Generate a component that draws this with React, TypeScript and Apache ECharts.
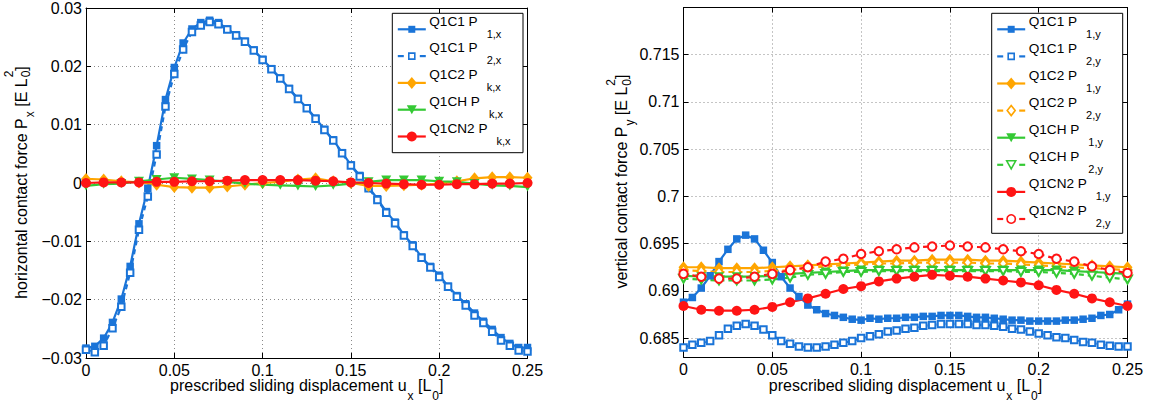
import React, { useEffect, useRef } from "react";
import * as echarts from "echarts";

// ---------- data ----------
const U_FINE = [
  0, 0.005, 0.01, 0.015, 0.02, 0.025, 0.03, 0.035, 0.04, 0.045, 0.05, 0.055, 0.06, 0.065, 0.07, 0.075, 0.08,
  0.085, 0.09, 0.095, 0.1, 0.105, 0.11, 0.115, 0.12, 0.125, 0.13, 0.135, 0.14, 0.145, 0.15, 0.155, 0.16, 0.165,
  0.17, 0.175, 0.18, 0.185, 0.19, 0.195, 0.2, 0.205, 0.21, 0.215, 0.22, 0.225, 0.23, 0.235, 0.24, 0.245, 0.25,
];
const U_COARSE = [
  0, 0.01, 0.02, 0.03, 0.04, 0.05, 0.06, 0.07, 0.08, 0.09, 0.1, 0.11, 0.12, 0.13, 0.14, 0.15, 0.16, 0.17, 0.18,
  0.19, 0.2, 0.21, 0.22, 0.23, 0.24, 0.25,
];

// horizontal contact force P_x
const PX_Q1C1_P1 = [
  -0.0283, -0.028, -0.0266, -0.0239, -0.0199, -0.0143, -0.007, -0.0009, 0.0064, 0.0143, 0.0198, 0.024, 0.0264,
  0.0275, 0.0279, 0.0275, 0.0264, 0.0254, 0.0243, 0.0228, 0.0212, 0.0196, 0.018, 0.0162, 0.0145, 0.0129, 0.0111,
  0.0092, 0.0074, 0.0052, 0.0031, 0.0013, -0.0007, -0.0027, -0.0049, -0.0067, -0.0089, -0.0106, -0.0127, -0.0143,
  -0.0158, -0.0177, -0.0193, -0.0207, -0.0223, -0.0237, -0.0251, -0.0265, -0.0275, -0.0282, -0.0282,
];
const PX_Q1C1_P2 = [
  -0.0286, -0.029, -0.0279, -0.0249, -0.0212, -0.0154, -0.008, -0.0023, 0.0049, 0.0131, 0.0187, 0.0229, 0.0259,
  0.027, 0.0276, 0.0272, 0.0263, 0.0253, 0.0242, 0.0227, 0.0211, 0.0195, 0.0179, 0.0161, 0.0144, 0.0128, 0.011,
  0.0091, 0.0073, 0.0051, 0.003, 0.0011, -0.0009, -0.0029, -0.0051, -0.0069, -0.009, -0.0108, -0.0128, -0.0145,
  -0.0161, -0.0178, -0.0195, -0.021, -0.0227, -0.024, -0.0255, -0.027, -0.0279, -0.0287, -0.0289,
];
const PX_Q1C2 = [
  0.0007, 0.0006, 0.0003, 0.0001, -0.0003, -0.0007, -0.0008, -0.0008, -0.0006, -0.0003, 0.0, 0.0002, 0.0006,
  0.0008, 0.0003, 0.0, -0.0005, -0.0005, -0.0004, -0.0003, -0.0001, 0.0003, 0.0008, 0.001, 0.001, 0.0009,
];
const PX_Q1CH = [
  -0.0005, -0.0002, -0.0001, 0.0003, 0.0006, 0.0009, 0.0007, 0.0005, 0.0002, -0.0001, -0.0003, -0.0004,
  -0.0005, -0.0006, -0.0004, -0.0001, 0.0002, 0.0005, 0.0005, 0.0005, 0.0003, 0.0002, -0.0001, -0.0004,
  -0.0005, -0.0007,
];
const PX_Q1CN2 = [
  0.0, 0.0001, 0.0001, 0.0001, 0.0002, 0.0002, 0.0003, 0.0003, 0.0004, 0.0005, 0.0005, 0.0005, 0.0005, 0.0004,
  0.0003, 0.0001, 0.0, -0.0001, -0.0002, -0.0003, -0.0003, -0.0002, -0.0002, -0.0001, -0.0001, 0.0,
];

// vertical contact force P_y
const PY_Q1C1_P1 = [
  0.6888, 0.6893, 0.6903, 0.6916, 0.6931, 0.6944, 0.6955, 0.6959, 0.6955, 0.6943, 0.693, 0.6915, 0.6903, 0.6894,
  0.6885, 0.688, 0.6876, 0.6874, 0.6872, 0.687, 0.6869, 0.6871, 0.687, 0.6871, 0.6871, 0.6872, 0.6872, 0.6873,
  0.6873, 0.6874, 0.6874, 0.6874, 0.6873, 0.6872, 0.6872, 0.6871, 0.687, 0.6869, 0.6869, 0.6868, 0.6868, 0.6868,
  0.6868, 0.6869, 0.6869, 0.687, 0.6871, 0.6874, 0.6875, 0.688, 0.6886,
];
const PY_Q1C1_P2 = [
  0.684, 0.6843, 0.6845, 0.6847, 0.6853, 0.686, 0.6863, 0.6865, 0.6863, 0.6859, 0.6853, 0.6847, 0.6844, 0.6841,
  0.684, 0.684, 0.6841, 0.6843, 0.6845, 0.6847, 0.685, 0.6852, 0.6854, 0.6857, 0.6858, 0.686, 0.6861, 0.6863,
  0.6864, 0.6865, 0.6865, 0.6865, 0.6865, 0.6864, 0.6864, 0.6863, 0.6862, 0.686, 0.6859, 0.6857, 0.6855, 0.6853,
  0.6851, 0.685, 0.6848, 0.6846, 0.6845, 0.6843, 0.6842, 0.6841, 0.6841,
];
const PY_Q1C2_P1 = [
  0.6925, 0.6925, 0.6924, 0.6924, 0.6924, 0.6925, 0.6926, 0.6927, 0.6928, 0.6929, 0.693, 0.6931, 0.6932, 0.6932,
  0.6933, 0.6933, 0.6933, 0.6932, 0.6932, 0.6931, 0.693, 0.6929, 0.6928, 0.6927, 0.6926, 0.6925,
];
const PY_Q1C2_P2 = [
  0.6922, 0.6921, 0.692, 0.692, 0.692, 0.6921, 0.6922, 0.6924, 0.6926, 0.6927, 0.6928, 0.6929, 0.6929, 0.693,
  0.693, 0.693, 0.693, 0.6929, 0.6929, 0.6928, 0.6927, 0.6926, 0.6925, 0.6924, 0.6923, 0.6922,
];
const PY_Q1CH_P1 = [
  0.6916, 0.6915, 0.6915, 0.6915, 0.6915, 0.6916, 0.6918, 0.6919, 0.692, 0.6921, 0.6922, 0.6922, 0.6922, 0.6922,
  0.6922, 0.6922, 0.6922, 0.6922, 0.6922, 0.6922, 0.6922, 0.6922, 0.6921, 0.692, 0.6919, 0.6918,
];
const PY_Q1CH_P2 = [
  0.6913, 0.6912, 0.6911, 0.6911, 0.6911, 0.6912, 0.6914, 0.6917, 0.6918, 0.692, 0.692, 0.6921, 0.6921, 0.6921,
  0.6921, 0.6921, 0.6921, 0.6921, 0.6921, 0.692, 0.692, 0.6919, 0.6918, 0.6916, 0.6914, 0.6912,
];
const PY_Q1CN2_P1 = [
  0.6884, 0.688, 0.6879, 0.6879, 0.688, 0.6883, 0.6888, 0.6892, 0.6897, 0.6902, 0.6905, 0.691, 0.6913, 0.6915,
  0.6917, 0.6916, 0.6915, 0.6913, 0.6911, 0.6909, 0.6906, 0.6901, 0.6897, 0.6892, 0.6888, 0.6884,
];
const PY_Q1CN2_P2 = [
  0.6918, 0.6915, 0.6913, 0.6913, 0.6915, 0.6918, 0.6922, 0.6925, 0.6931, 0.6934, 0.6939, 0.6942, 0.6944, 0.6946,
  0.6947, 0.6948, 0.6947, 0.6946, 0.6944, 0.6942, 0.6939, 0.6934, 0.6931, 0.6926, 0.6922, 0.6919,
];

// legend labels: [series name, main text, subscript]
const LEFT_LEGEND = [
  ["Q1C1 P1,x", "Q1C1 P", "1,x"],
  ["Q1C1 P2,x", "Q1C1 P", "2,x"],
  ["Q1C2 Pk,x", "Q1C2 P", "k,x"],
  ["Q1CH Pk,x", "Q1CH P", "k,x"],
  ["Q1CN2 Pk,x", "Q1CN2 P", "k,x"],
];
const RIGHT_LEGEND = [
  ["Q1C1 P1,y", "Q1C1 P", "1,y"],
  ["Q1C1 P2,y", "Q1C1 P", "2,y"],
  ["Q1C2 P1,y", "Q1C2 P", "1,y"],
  ["Q1C2 P2,y", "Q1C2 P", "2,y"],
  ["Q1CH P1,y", "Q1CH P", "1,y"],
  ["Q1CH P2,y", "Q1CH P", "2,y"],
  ["Q1CN2 P1,y", "Q1CN2 P", "1,y"],
  ["Q1CN2 P2,y", "Q1CN2 P", "2,y"],
];

// axis titles: [text, kind]  m = normal, s = subscript, z = stacked subscript, p = superscript
const X_TITLE = [["prescribed sliding displacement u", "m"], ["x", "s"], [" [L", "m"], ["0", "s"], ["]", "m"]];
const Y_TITLE_LEFT = [["horizontal contact force P", "m"], ["x", "s"], [" [E L", "m"], ["0", "z"], ["2", "p"], ["]", "m"]];
const Y_TITLE_RIGHT = [["vertical contact force P", "m"], ["y", "s"], [" [E L", "m"], ["0", "z"], ["2", "p"], ["]", "m"]];

// ---------- styling ----------
const FONT = "'Liberation Sans', Arial, Helvetica, sans-serif";
const BLUE = "#1a74d8";
const ORANGE = "#ffa500";
const GREEN = "#34c934";
const RED = "#ff1414";

const STYLE: Record<string, { color: string; symbol: string; size: any; dashed: boolean; rotate?: number }> = {
  "Q1C1 P1,x": { color: BLUE, symbol: "rect", size: 7.5, dashed: false },
  "Q1C1 P2,x": { color: BLUE, symbol: "emptyRect", size: 6.5, dashed: true },
  "Q1C2 Pk,x": { color: ORANGE, symbol: "diamond", size: [10, 12], dashed: false },
  "Q1CH Pk,x": { color: GREEN, symbol: "triangle", size: [10, 9], dashed: false, rotate: 180 },
  "Q1CN2 Pk,x": { color: RED, symbol: "circle", size: 10, dashed: false },
  "Q1C1 P1,y": { color: BLUE, symbol: "rect", size: 7.5, dashed: false },
  "Q1C1 P2,y": { color: BLUE, symbol: "emptyRect", size: 6.5, dashed: true },
  "Q1C2 P1,y": { color: ORANGE, symbol: "diamond", size: [10, 12], dashed: false },
  "Q1C2 P2,y": { color: ORANGE, symbol: "emptyDiamond", size: [8, 10], dashed: true },
  "Q1CH P1,y": { color: GREEN, symbol: "triangle", size: [10, 9], dashed: false, rotate: 180 },
  "Q1CH P2,y": { color: GREEN, symbol: "emptyTriangle", size: [9, 8], dashed: true, rotate: 180 },
  "Q1CN2 P1,y": { color: RED, symbol: "circle", size: 10, dashed: false },
  "Q1CN2 P2,y": { color: RED, symbol: "emptyCircle", size: 8.5, dashed: true },
};

let measureCtx: CanvasRenderingContext2D | null = null;
function textWidth(text: string, size: number) {
  if (!measureCtx) measureCtx = document.createElement("canvas").getContext("2d");
  if (!measureCtx) return text.length * size * 0.55;
  measureCtx.font = `${size}px ${FONT}`;
  return measureCtx.measureText(text).width;
}

function txt(text: string, x: number, y: number, size: number) {
  return {
    type: "text", x, y, z: 100, silent: true,
    style: { text, fontSize: size, fontFamily: FONT, fill: "#000", align: "left", verticalAlign: "middle" },
  };
}

// build pieces of an axis title in local coords, centred on 0
function titlePieces(pieces: string[][], subDy: number, stackDy: number, supDy: number) {
  const MAIN = 16;
  const SUB = 12;
  let total = 0;
  pieces.forEach(([t, k]) => {
    if (k === "z") return;
    total += textWidth(t, k === "m" ? MAIN : SUB) + (k === "s" ? 1 : 0);
  });
  let x = -total / 2;
  const out: any[] = [];
  pieces.forEach(([t, k]) => {
    if (k === "m") {
      out.push(txt(t, x, 0, MAIN));
      x += textWidth(t, MAIN);
    } else if (k === "s") {
      out.push(txt(t, x + 1, subDy, SUB));
      x += textWidth(t, SUB) + 1;
    } else if (k === "z") {
      out.push(txt(t, x + 1, stackDy, SUB));
    } else {
      out.push(txt(t, x + 1, supDy, SUB));
      x += textWidth(t, SUB) + 1;
    }
  });
  return out;
}

function legendMarker(symbol: string, cx: number, cy: number, color: string) {
  const base = { z: 101, silent: true };
  switch (symbol) {
    case "rect":
      return { type: "rect", ...base, shape: { x: cx - 3.5, y: cy - 3.5, width: 7, height: 7 }, style: { fill: color } };
    case "emptyRect":
      return { type: "rect", ...base, shape: { x: cx - 3, y: cy - 3, width: 6, height: 6 }, style: { fill: "#fff", stroke: color, lineWidth: 1.6 } };
    case "diamond":
      return { type: "polygon", ...base, shape: { points: [[cx, cy - 6], [cx + 5, cy], [cx, cy + 6], [cx - 5, cy]] }, style: { fill: color } };
    case "emptyDiamond":
      return { type: "polygon", ...base, shape: { points: [[cx, cy - 5], [cx + 4, cy], [cx, cy + 5], [cx - 4, cy]] }, style: { fill: "#fff", stroke: color, lineWidth: 1.6 } };
    case "triangle":
      return { type: "polygon", ...base, shape: { points: [[cx - 5, cy - 4.5], [cx + 5, cy - 4.5], [cx, cy + 4.5]] }, style: { fill: color } };
    case "emptyTriangle":
      return { type: "polygon", ...base, shape: { points: [[cx - 4.5, cy - 4], [cx + 4.5, cy - 4], [cx, cy + 4]] }, style: { fill: "#fff", stroke: color, lineWidth: 1.6 } };
    case "circle":
      return { type: "circle", ...base, shape: { cx, cy, r: 5 }, style: { fill: color } };
    default:
      return { type: "circle", ...base, shape: { cx, cy, r: 4.2 }, style: { fill: "#fff", stroke: color, lineWidth: 1.6 } };
  }
}

function legendBox(items: string[][], bx: number, by: number, bw: number, bh: number, step: number) {
  const els: any[] = [
    { type: "rect", z: 99, silent: true, shape: { x: bx, y: by, width: bw, height: bh }, style: { fill: "#fff", stroke: "#000", lineWidth: 1 } },
  ];
  items.forEach(([name, main, sub], i) => {
    const st = STYLE[name];
    const cy = by + 16 + step * i;
    const x0 = bx + 5.5;
    const x1 = bx + 33.5;
    const cx = (x0 + x1) / 2;
    if (st.dashed) {
      els.push({ type: "line", z: 100, silent: true, shape: { x1: x0, y1: cy, x2: x0 + 6, y2: cy }, style: { stroke: st.color, lineWidth: 2.2 } });
      els.push({ type: "line", z: 100, silent: true, shape: { x1: x1 - 6, y1: cy, x2: x1, y2: cy }, style: { stroke: st.color, lineWidth: 2.2 } });
    } else {
      els.push({ type: "line", z: 100, silent: true, shape: { x1: x0, y1: cy, x2: x1, y2: cy }, style: { stroke: st.color, lineWidth: 2.2 } });
    }
    els.push(legendMarker(st.symbol, cx, cy, st.color));
    const tx = bx + 37;
    els.push(txt(main, tx, cy - 8.3, 13.6));
    els.push(txt(sub, tx + textWidth(main, 13.6) + 9, cy + 4.2, 11));
  });
  return els;
}

function series(name: string, xs: number[], ys: number[], grid: number) {
  const st = STYLE[name];
  const empty = st.symbol.indexOf("empty") === 0;
  return {
    type: "line",
    name,
    xAxisIndex: grid * 2,
    yAxisIndex: grid * 2,
    data: xs.map((x, i) => [x, ys[i]]),
    symbol: st.symbol,
    symbolSize: st.size,
    symbolRotate: st.rotate || 0,
    showSymbol: true,
    showAllSymbol: true,
    clip: true,
    silent: true,
    lineStyle: { color: st.color, width: 2.2, type: st.dashed ? [5, 4] : "solid" },
    itemStyle: empty ? { color: st.color, borderColor: st.color, borderWidth: 1.7 } : { color: st.color, borderWidth: 0 },
    emphasis: { disabled: true },
  };
}

const GRID_LINE = { show: true, lineStyle: { type: [1, 3], color: "#8a8a8a", width: 1 } };
const AXIS_LINE = { show: true, onZero: false, lineStyle: { color: "#000", width: 1 } };
const AXIS_TICK = { show: true, inside: true, length: 5, lineStyle: { color: "#000", width: 1 } };

function xAxes(grid: number) {
  const common = { gridIndex: grid, type: "value", min: 0, max: 0.25, interval: 0.05, axisLine: AXIS_LINE, axisTick: AXIS_TICK };
  return [
    {
      ...common, position: "bottom",
      axisLabel: {
        show: true, margin: 4, fontSize: 16, fontFamily: FONT, color: "#000",
        formatter: (v: number) => String(parseFloat(v.toFixed(3))),
      },
      splitLine: GRID_LINE,
    },
    { ...common, position: "top", axisLabel: { show: false }, splitLine: { show: false } },
  ];
}

function yAxes(grid: number, range: any, fmt: (v: number) => string) {
  const common = { gridIndex: grid, type: "value", ...range, axisLine: AXIS_LINE, axisTick: AXIS_TICK };
  return [
    {
      ...common, position: "left",
      axisLabel: {
        show: true, margin: 4, fontSize: 16, fontFamily: FONT, color: "#000", formatter: fmt,
        showMinLabel: grid === 0, showMaxLabel: grid === 0,
      },
      splitLine: GRID_LINE,
    },
    { ...common, position: "right", axisLabel: { show: false }, splitLine: { show: false } },
  ];
}

const fmtLeftY = (v: number) => {
  const r = parseFloat(v.toFixed(4));
  return r < 0 ? "\u2212" + String(-r) : String(r);
};
const fmtRightY = (v: number) => String(parseFloat(v.toFixed(4)));

export default function App() {
  const ref = useRef<HTMLDivElement>(null);
  useEffect(() => {
    if (!ref.current) return;
    const chart = echarts.init(ref.current, null, { renderer: "svg" });
    const graphic: any[] = [
      // x-axis titles
      { type: "group", x: 306.75, y: 385.5, children: titlePieces(X_TITLE, 10.5, 10.5, -11) },
      { type: "group", x: 905.5, y: 385.5, children: titlePieces(X_TITLE, 10.5, 10.5, -11) },
      // y-axis titles (rotated)
      { type: "group", x: 21, y: 183, rotation: Math.PI / 2, children: titlePieces(Y_TITLE_LEFT, 9, 5, -12) },
      { type: "group", x: 621, y: 182, rotation: Math.PI / 2, children: titlePieces(Y_TITLE_RIGHT, 9, 6, -10) },
      // legends
      ...legendBox(LEFT_LEGEND, 392.3, 13.3, 130.7, 139.4, 26.8),
      ...legendBox(RIGHT_LEGEND, 991.7, 13.3, 131, 220, 27.1),
    ];
    const option: any = {
      animation: false,
      backgroundColor: "#fff",
      grid: [
        { left: 86, top: 8, width: 441.5, height: 350, containLabel: false, outerBoundsMode: "none" },
        { left: 683.5, top: 7.5, width: 444, height: 349.5, containLabel: false, outerBoundsMode: "none" },
      ],
      xAxis: [...xAxes(0), ...xAxes(1)],
      yAxis: [
        ...yAxes(0, { min: -0.03, max: 0.03, interval: 0.01 }, fmtLeftY),
        ...yAxes(1, { min: 0.683, max: 0.72, splitNumber: 7 }, fmtRightY),
      ],
      graphic,
      series: [
        series("Q1C1 P1,x", U_FINE, PX_Q1C1_P1, 0),
        series("Q1C1 P2,x", U_FINE, PX_Q1C1_P2, 0),
        series("Q1C2 Pk,x", U_COARSE, PX_Q1C2, 0),
        series("Q1CH Pk,x", U_COARSE, PX_Q1CH, 0),
        series("Q1CN2 Pk,x", U_COARSE, PX_Q1CN2, 0),
        series("Q1C1 P1,y", U_FINE, PY_Q1C1_P1, 1),
        series("Q1C1 P2,y", U_FINE, PY_Q1C1_P2, 1),
        series("Q1C2 P1,y", U_COARSE, PY_Q1C2_P1, 1),
        series("Q1C2 P2,y", U_COARSE, PY_Q1C2_P2, 1),
        series("Q1CH P1,y", U_COARSE, PY_Q1CH_P1, 1),
        series("Q1CH P2,y", U_COARSE, PY_Q1CH_P2, 1),
        series("Q1CN2 P1,y", U_COARSE, PY_Q1CN2_P1, 1),
        series("Q1CN2 P2,y", U_COARSE, PY_Q1CN2_P2, 1),
      ],
    };
    chart.setOption(option);
    return () => chart.dispose();
  }, []);
  return (
    <div
      ref={ref}
      style={{ position: "absolute", left: 0, top: 0, width: 1153, height: 405, background: "#fff" }}
    />
  );
}
